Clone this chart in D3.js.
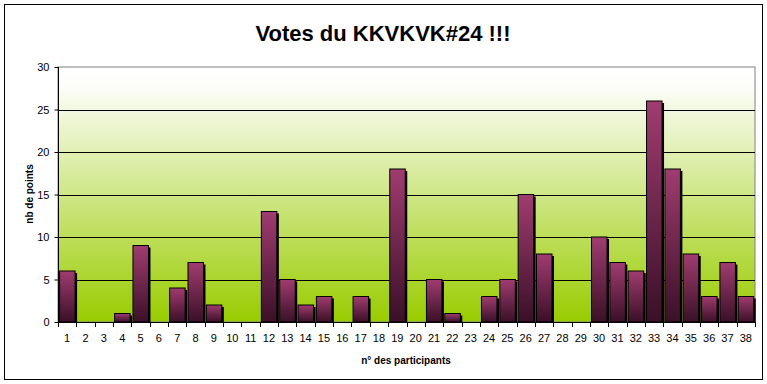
<!DOCTYPE html>
<html><head><meta charset="utf-8">
<script src="https://cdn.jsdelivr.net/npm/d3@7"></script>
<style>body{margin:0;background:#fff}svg{display:block}text{font-family:Arial,"Liberation Sans",sans-serif}</style>
</head><body>
<script>
const categories = d3.range(1, 39).map(String);
const values = [6,0,0,1,9,0,4,7,2,0,0,13,5,2,3,0,3,0,18,0,5,1,0,3,5,15,8,0,0,10,7,6,26,18,8,3,7,3];
const yTicks = [0,5,10,15,20,25,30];
const title = "Votes du KKVKVK#24 !!!";
const xTitle = "n° des participants";
const yTitle = "nb de points";

const W = 767, H = 384;
const svg = d3.select("body").append("svg").attr("width", W).attr("height", H);
const defs = svg.append("defs");
const bg = defs.append("linearGradient").attr("id","bg").attr("x1",0).attr("y1",0).attr("x2",0).attr("y2",1);
bg.append("stop").attr("offset","0%").attr("stop-color","#ffffff");
bg.append("stop").attr("offset","8%").attr("stop-color","#fcfdf8");
bg.append("stop").attr("offset","100%").attr("stop-color","#99cc00");
const bar = defs.append("linearGradient").attr("id","bar").attr("x1",0).attr("y1",0).attr("x2",0).attr("y2",1);
bar.append("stop").attr("offset","0%").attr("stop-color","#a03c70");
bar.append("stop").attr("offset","100%").attr("stop-color","#3a1027");

svg.append("rect").attr("x",4.5).attr("y",4.5).attr("width",758).attr("height",375)
  .attr("fill","#fff").attr("stroke","#000");

const m = {left:58, right:755, top:67, bottom:322};
const x = d3.scaleBand().domain(categories).range([m.left, m.right]).paddingInner(0).paddingOuter(0);
const y = d3.scaleLinear().domain([0,30]).range([m.bottom, m.top]);

svg.append("rect").attr("x",m.left).attr("y",m.top).attr("width",m.right-m.left).attr("height",m.bottom-m.top)
  .attr("fill","url(#bg)").attr("stroke","#808080");

svg.append("g").selectAll("line").data(yTicks.filter(d=>d>0 && d<30)).join("line")
  .attr("x1",m.left).attr("x2",m.right).attr("y1",d=>Math.round(y(d))+0.5).attr("y2",d=>Math.round(y(d))+0.5)
  .attr("stroke","#000");

const step = x.step();
const bw = step*0.845, off = 1.6;
const data = categories.map((c,i)=>({c, v: values[i]})).filter(d=>d.v>0);
const clip = defs.append("clipPath").attr("id","pc").append("rect")
  .attr("x",m.left).attr("y",m.top).attr("width",m.right-m.left+3).attr("height",m.bottom-m.top);
const gb = svg.append("g").attr("clip-path","url(#pc)");
gb.selectAll("rect.sh").data(data).join("rect").attr("class","sh")
  .attr("x",d=>x(d.c)+off+2).attr("y",d=>y(d.v)+2).attr("width",bw).attr("height",d=>m.bottom-y(d.v))
  .attr("fill","#000");
gb.selectAll("rect.b").data(data).join("rect").attr("class","b")
  .attr("x",d=>x(d.c)+off).attr("y",d=>y(d.v)).attr("width",bw).attr("height",d=>m.bottom-y(d.v))
  .attr("fill","url(#bar)").attr("stroke","#000").attr("stroke-width",1);

// axes
const ya = svg.append("g").attr("transform",`translate(${m.left+0.5},0)`)
  .call(d3.axisLeft(y).tickValues(yTicks).tickSize(4).tickPadding(5));
ya.select(".domain").attr("stroke","#000").attr("d",`M0,${m.top}V${m.bottom}`);
ya.selectAll("text").attr("font-size",11).attr("fill","#000").attr("font-family","Arial, 'Liberation Sans', sans-serif");

const xa = svg.append("g").attr("transform",`translate(0,${m.bottom+0.5})`)
  .call(d3.axisBottom(x).tickSize(0).tickPadding(12));
xa.select(".domain").attr("stroke","#000").attr("d",`M${m.left},0H${m.right}`);
xa.selectAll("text").attr("font-size",11).attr("fill","#000").attr("font-family","Arial, 'Liberation Sans', sans-serif");
svg.append("g").selectAll("line").data(d3.range(0,39)).join("line")
  .attr("x1",i=>Math.round(m.left+i*step)+0.5).attr("x2",i=>Math.round(m.left+i*step)+0.5)
  .attr("y1",m.bottom).attr("y2",m.bottom+5).attr("stroke","#000");

svg.append("text").attr("x",383).attr("y",41).attr("text-anchor","middle")
  .attr("font-size",22).attr("font-weight","bold").text(title);
svg.append("text").attr("x",406).attr("y",364).attr("text-anchor","middle")
  .attr("font-size",10).attr("font-weight","bold").text(xTitle);
svg.append("text").attr("transform","translate(29,194) rotate(-90)").attr("text-anchor","middle")
  .attr("dy","0.35em").attr("font-size",10).attr("font-weight","bold").text(yTitle);
</script>
</body></html>
